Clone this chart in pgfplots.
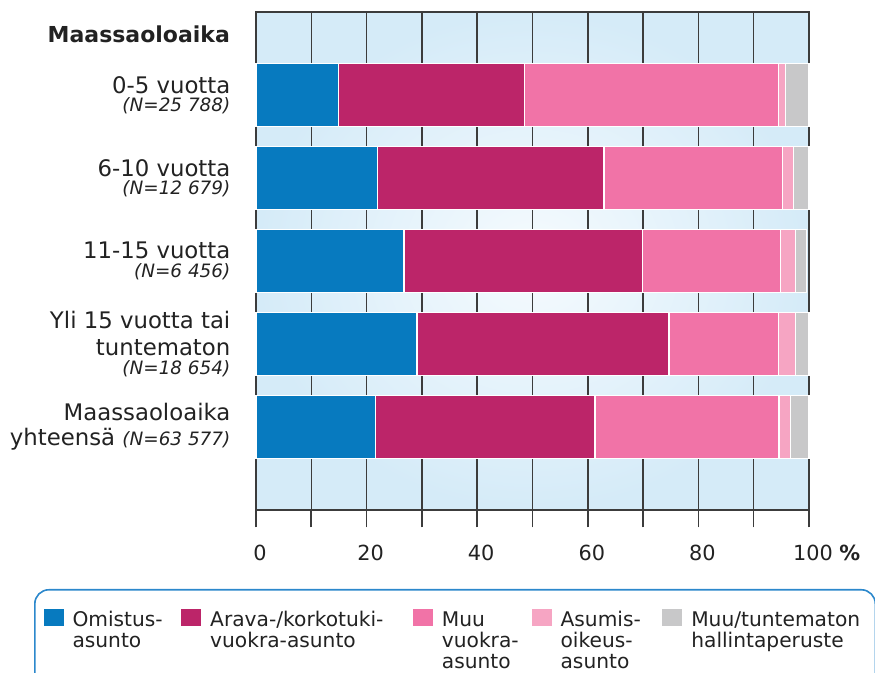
\documentclass[border=0pt]{standalone}
\usepackage{fontspec}
\setmainfont{DejaVu Sans}
\usepackage{pgfplots}
\pgfplotsset{compat=1.18}

\definecolor{cOmis}{HTML}{077ABF}
\definecolor{cArava}{HTML}{BC2569}
\definecolor{cMuu}{HTML}{F173A7}
\definecolor{cAsum}{HTML}{F6A5C3}
\definecolor{cTunt}{HTML}{C8C8C9}
\definecolor{bgout}{HTML}{D5EBF8}
\definecolor{bgin}{HTML}{F6FBFE}
\definecolor{frame}{HTML}{3C3C3C}
\definecolor{legblue}{HTML}{2C88CC}
\definecolor{txt}{HTML}{222222}

\newcommand{\Nlab}[1]{{\fontsize{9.2}{10}\selectfont\itshape (N=#1)}}
\newcommand{\legtxt}[2]{\parbox[t]{#1}{\fontsize{10.1}{10.5}\selectfont #2}}

\begin{document}
\begin{tikzpicture}
\path[use as bounding box] (-128pt,-81.5pt) rectangle (309.5pt,255pt);
\begin{axis}[
    xbar stacked,
    scale only axis,
    width=276.5pt, height=249pt,
    xmin=0, xmax=100,
    ymin=0, ymax=6,
    y dir=reverse,
    bar width=31.5pt,
    clip=false,
    axis background/.style={inner color=bgin, outer color=bgout},
    axis line style={draw=frame, line width=0.9pt},
    xtick={0,10,...,100},
    xticklabels={0,,20,,40,,60,,80,,{100\rlap{\ \textbf{\%}}}},
    xtick align=outside,
    xtick pos=left,
    major tick length=8.75pt,
    tick style={draw=frame, line width=0.8pt},
    xmajorgrids,
    major grid style={draw=frame, line width=0.75pt},
    ytick={1,...,5},
    ytick style={draw=none},
    yticklabels={
        {0-5 vuotta\\[-3.3pt]\Nlab{25 788}},
        {6-10 vuotta\\[-3.3pt]\Nlab{12 679}},
        {11-15 vuotta\\[-3.3pt]\Nlab{6 456}},
        {Yli 15 vuotta tai\\[1pt]tuntematon\\[-3.3pt]\Nlab{18 654}},
        {Maassaoloaika\\yhteensä \Nlab{63 577}}
    },
    yticklabel style={align=right, text=txt, font=\fontsize{11.4}{12.5}\selectfont, xshift=-9.3pt},
    xticklabel style={text=txt, font=\fontsize{10.4}{12}\selectfont, xshift=2pt, yshift=-5pt},
    legend image code/.code={\fill[#1, draw=none, sharp corners] (0pt,0pt) rectangle (10pt,8.5pt); \path (0pt,-28pt);},
    legend columns=5,
    legend cell align=left,
    legend style={
        at={(axis description cs:-0.4014,-0.1586)}, anchor=north west,
        draw=legblue, line width=0.8pt, rounded corners=7pt,
        inner xsep=4pt, inner ysep=8.5pt,
        text=txt,
        cells={anchor=base west, inner sep=0pt},
        /tikz/every odd column/.append style={column sep=2.5pt},
        /tikz/every even column/.append style={column sep=-1.5pt},
    },
]
\addplot[fill=cOmis, draw=white, line width=0.7pt] coordinates {(14.9,1) (22.0,2) (26.8,3) (29.1,4) (21.6,5)};
\addlegendentry{\legtxt{53.5pt}{Omistus-\\asunto}}
\addplot[fill=cArava, draw=white, line width=0.7pt] coordinates {(33.7,1) (40.9,2) (43.1,3) (45.6,4) (39.7,5)};
\addlegendentry{\legtxt{100.5pt}{Arava-/korkotuki-\\vuokra-asunto}}
\addplot[fill=cMuu, draw=white, line width=0.7pt] coordinates {(45.9,1) (32.3,2) (25.0,3) (19.8,4) (33.3,5)};
\addlegendentry{\legtxt{44pt}{Muu\\vuokra-\\asunto}}
\addplot[fill=cAsum, draw=white, line width=0.7pt] coordinates {(1.2,1) (2.0,2) (2.7,3) (3.1,4) (2.1,5)};
\addlegendentry{\legtxt{50pt}{Asumis-\\oikeus-\\asunto}}
\addplot[fill=cTunt, draw=white, line width=0.7pt] coordinates {(4.3,1) (2.8,2) (2.0,3) (2.4,4) (3.3,5)};
\addlegendentry{\legtxt{86pt}{Muu/tuntematon\\hallintaperuste}}

\node[anchor=east, text=txt, font=\bfseries\fontsize{11}{13}\selectfont, xshift=-9.5pt] at (axis cs:0,0.27) {Maassaoloaika};
\end{axis}
\end{tikzpicture}
\end{document}
